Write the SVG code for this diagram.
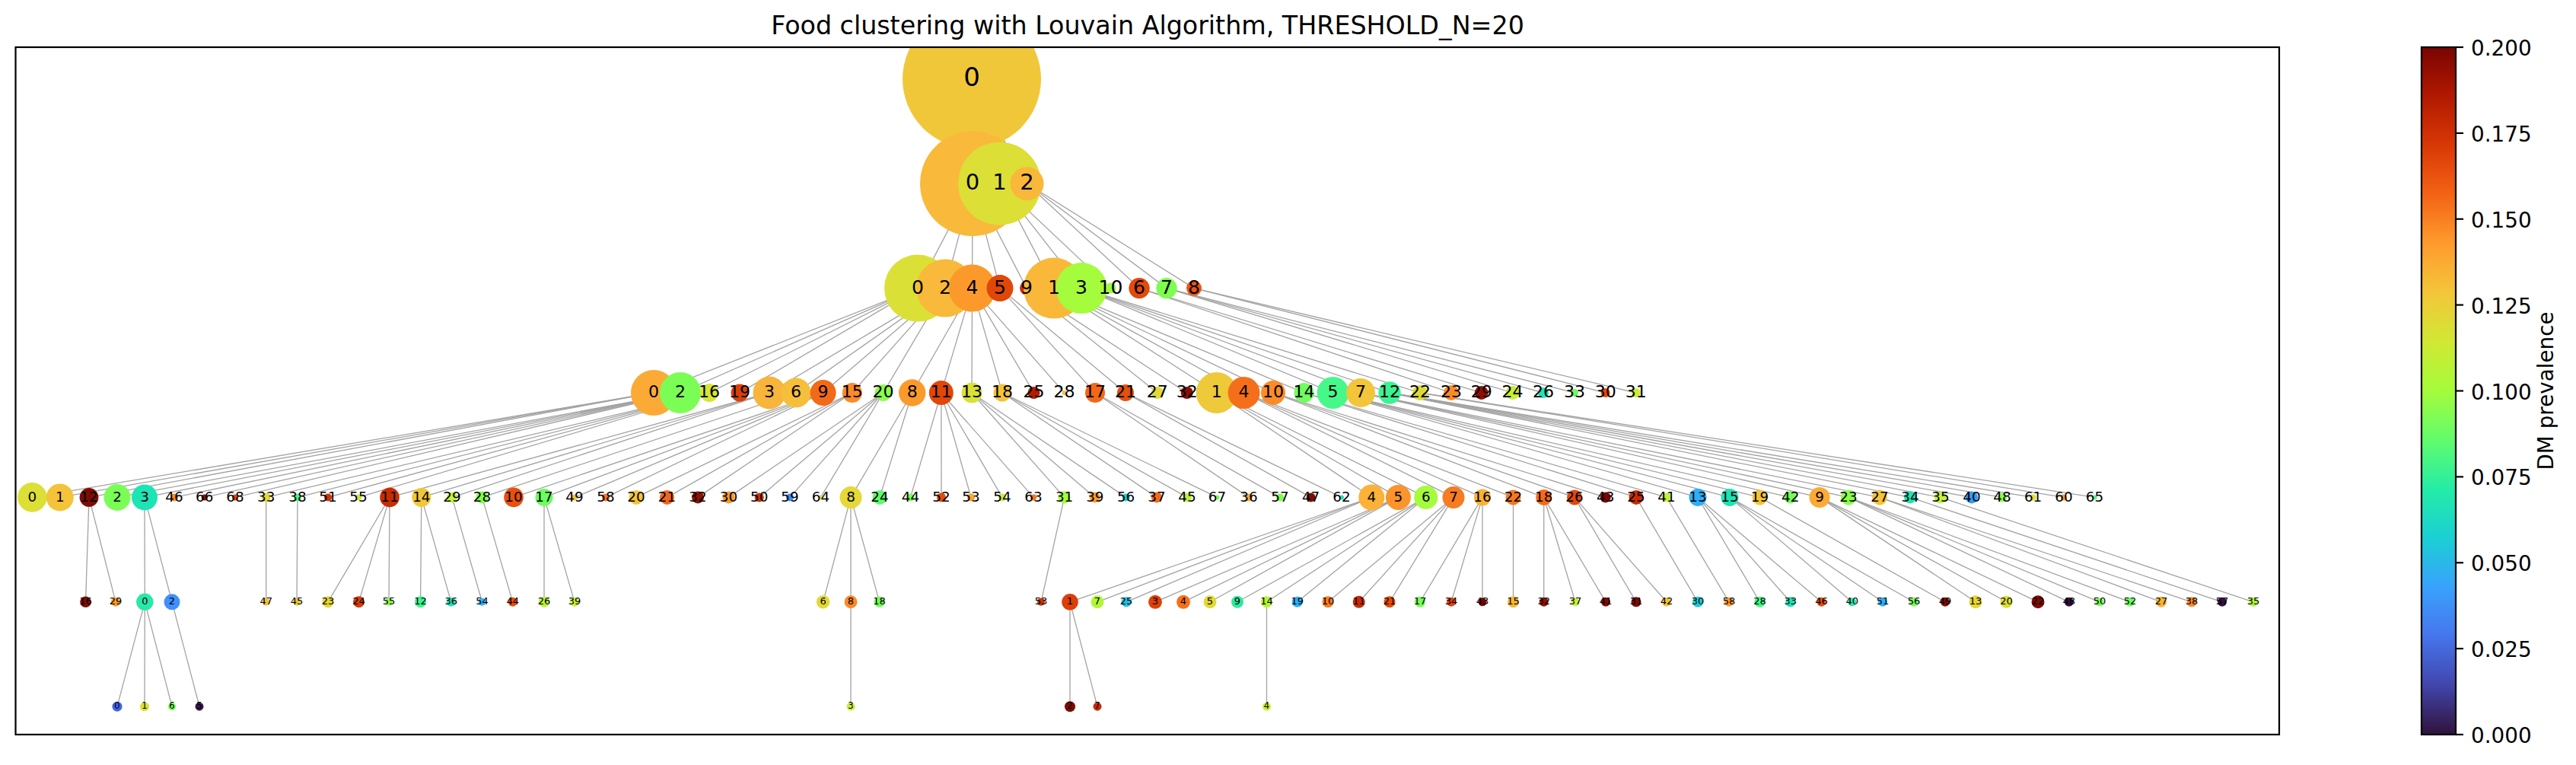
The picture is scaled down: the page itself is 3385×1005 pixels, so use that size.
<svg xmlns="http://www.w3.org/2000/svg" width="3385" height="1005" viewBox="0 0 3385 1005">
<style>
text{font-family:"DejaVu Sans","Liberation Sans",sans-serif;fill:#000}
.lb text{text-anchor:middle}
.t0{font-size:34px}.t1{font-size:29px}.t2{font-size:25px}.t3{font-size:22px}.t4{font-size:18.3px}.t5{font-size:13px}.t6{font-size:11.5px}
#edges line{stroke:#a3a3a3;stroke-width:1.3}
.tk{stroke:#000;stroke-width:2.2}
.tl{font-size:27.8px}
</style>
<defs>
<clipPath id="ax"><rect x="20.5" y="62" width="2974.5" height="903"/></clipPath>
<linearGradient id="turbo" x1="0" y1="1" x2="0" y2="0">
<stop offset="0" stop-color="#30123b"/><stop offset="0.0714" stop-color="#4145ab"/><stop offset="0.1429" stop-color="#4675ed"/><stop offset="0.2143" stop-color="#39a2fc"/><stop offset="0.2857" stop-color="#1bcfd4"/><stop offset="0.3571" stop-color="#24eca6"/><stop offset="0.4286" stop-color="#61fc6c"/><stop offset="0.5" stop-color="#a4fc3b"/><stop offset="0.5714" stop-color="#d1e834"/><stop offset="0.6429" stop-color="#f3c63a"/><stop offset="0.7143" stop-color="#fe9b2d"/><stop offset="0.7857" stop-color="#f36315"/><stop offset="0.8571" stop-color="#d93806"/><stop offset="0.9286" stop-color="#b11901"/><stop offset="1" stop-color="#7a0402"/>
</linearGradient>
</defs>
<rect width="3385" height="1005" fill="#fff"/>
<text x="1508" y="45" text-anchor="middle" style="font-size:33.3px">Food clustering with Louvain Algorithm, THRESHOLD_N=20</text>
<g clip-path="url(#ax)">
<g id="edges">
<line x1="1277" y1="103.8" x2="1278" y2="241.2"/><line x1="1277" y1="103.8" x2="1313.5" y2="241.2"/><line x1="1277" y1="103.8" x2="1349.5" y2="241.2"/>
<line x1="1278" y1="241.2" x2="1206" y2="378.6"/><line x1="1278" y1="241.2" x2="1242" y2="378.6"/><line x1="1278" y1="241.2" x2="1277.5" y2="378.6"/><line x1="1278" y1="241.2" x2="1314" y2="378.6"/><line x1="1278" y1="241.2" x2="1349" y2="378.6"/>
<line x1="1313.5" y1="241.2" x2="1385" y2="378.6"/><line x1="1313.5" y1="241.2" x2="1421" y2="378.6"/><line x1="1313.5" y1="241.2" x2="1459.5" y2="378.6"/>
<line x1="1349.5" y1="241.2" x2="1497" y2="378.6"/><line x1="1349.5" y1="241.2" x2="1533" y2="378.6"/><line x1="1349.5" y1="241.2" x2="1569" y2="378.6"/>
<line x1="1206" y1="378.6" x2="859" y2="516"/><line x1="1206" y1="378.6" x2="894" y2="516"/><line x1="1206" y1="378.6" x2="932" y2="516"/><line x1="1206" y1="378.6" x2="972" y2="516"/>
<line x1="1242" y1="378.6" x2="1011" y2="516"/><line x1="1242" y1="378.6" x2="1046" y2="516"/><line x1="1242" y1="378.6" x2="1081.6" y2="516"/><line x1="1242" y1="378.6" x2="1119.8" y2="516"/><line x1="1242" y1="378.6" x2="1160.6" y2="516"/>
<line x1="1277.5" y1="378.6" x2="1198.7" y2="516"/><line x1="1277.5" y1="378.6" x2="1236.8" y2="516"/><line x1="1277.5" y1="378.6" x2="1277" y2="516"/><line x1="1277.5" y1="378.6" x2="1317" y2="516"/><line x1="1277.5" y1="378.6" x2="1358.5" y2="516"/><line x1="1277.5" y1="378.6" x2="1398.5" y2="516"/>
<line x1="1314" y1="378.6" x2="1439" y2="516"/><line x1="1314" y1="378.6" x2="1479" y2="516"/>
<line x1="1349" y1="378.6" x2="1520.7" y2="516"/><line x1="1349" y1="378.6" x2="1559.7" y2="516"/>
<line x1="1385" y1="378.6" x2="1598.7" y2="516"/><line x1="1385" y1="378.6" x2="1634.5" y2="516"/><line x1="1385" y1="378.6" x2="1673" y2="516"/><line x1="1385" y1="378.6" x2="1713.5" y2="516"/>
<line x1="1421" y1="378.6" x2="1751.6" y2="516"/><line x1="1421" y1="378.6" x2="1788" y2="516"/><line x1="1421" y1="378.6" x2="1826" y2="516"/><line x1="1421" y1="378.6" x2="1866" y2="516"/>
<line x1="1497" y1="378.6" x2="1907" y2="516"/><line x1="1497" y1="378.6" x2="1946.7" y2="516"/>
<line x1="1533" y1="378.6" x2="1987.6" y2="516"/><line x1="1533" y1="378.6" x2="2028" y2="516"/><line x1="1533" y1="378.6" x2="2069" y2="516"/>
<line x1="1569" y1="378.6" x2="2109.7" y2="516"/><line x1="1569" y1="378.6" x2="2149.7" y2="516"/>
<line x1="859" y1="516" x2="42.3" y2="653.4"/><line x1="859" y1="516" x2="78.7" y2="653.4"/><line x1="859" y1="516" x2="117" y2="653.4"/>
<line x1="894" y1="516" x2="154" y2="653.4"/><line x1="894" y1="516" x2="190" y2="653.4"/><line x1="894" y1="516" x2="229" y2="653.4"/><line x1="894" y1="516" x2="268.7" y2="653.4"/><line x1="894" y1="516" x2="309" y2="653.4"/>
<line x1="932" y1="516" x2="349.7" y2="653.4"/><line x1="932" y1="516" x2="391" y2="653.4"/><line x1="932" y1="516" x2="431" y2="653.4"/><line x1="932" y1="516" x2="471" y2="653.4"/>
<line x1="1011" y1="516" x2="512" y2="653.4"/><line x1="1011" y1="516" x2="553.8" y2="653.4"/><line x1="1011" y1="516" x2="594" y2="653.4"/>
<line x1="1046" y1="516" x2="633.5" y2="653.4"/>
<line x1="1081.6" y1="516" x2="675" y2="653.4"/><line x1="1081.6" y1="516" x2="715" y2="653.4"/><line x1="1081.6" y1="516" x2="755" y2="653.4"/><line x1="1081.6" y1="516" x2="796" y2="653.4"/>
<line x1="1119.8" y1="516" x2="836" y2="653.4"/><line x1="1119.8" y1="516" x2="876.5" y2="653.4"/><line x1="1119.8" y1="516" x2="917" y2="653.4"/>
<line x1="1160.6" y1="516" x2="957.5" y2="653.4"/><line x1="1160.6" y1="516" x2="997.7" y2="653.4"/><line x1="1160.6" y1="516" x2="1038" y2="653.4"/><line x1="1160.6" y1="516" x2="1078.4" y2="653.4"/>
<line x1="1198.7" y1="516" x2="1118" y2="653.4"/><line x1="1198.7" y1="516" x2="1156" y2="653.4"/>
<line x1="1236.8" y1="516" x2="1196.4" y2="653.4"/><line x1="1236.8" y1="516" x2="1237" y2="653.4"/><line x1="1236.8" y1="516" x2="1276" y2="653.4"/><line x1="1236.8" y1="516" x2="1317" y2="653.4"/><line x1="1236.8" y1="516" x2="1358" y2="653.4"/>
<line x1="1277" y1="516" x2="1398.6" y2="653.4"/><line x1="1277" y1="516" x2="1438.8" y2="653.4"/><line x1="1277" y1="516" x2="1479.6" y2="653.4"/>
<line x1="1317" y1="516" x2="1520" y2="653.4"/><line x1="1317" y1="516" x2="1560" y2="653.4"/><line x1="1317" y1="516" x2="1599.5" y2="653.4"/>
<line x1="1439" y1="516" x2="1641" y2="653.4"/><line x1="1439" y1="516" x2="1682" y2="653.4"/>
<line x1="1479" y1="516" x2="1722.6" y2="653.4"/><line x1="1479" y1="516" x2="1763" y2="653.4"/>
<line x1="1598.7" y1="516" x2="1802.3" y2="653.4"/><line x1="1598.7" y1="516" x2="1837.4" y2="653.4"/><line x1="1598.7" y1="516" x2="1873.7" y2="653.4"/>
<line x1="1634.5" y1="516" x2="1910" y2="653.4"/><line x1="1634.5" y1="516" x2="1948" y2="653.4"/><line x1="1634.5" y1="516" x2="1988.5" y2="653.4"/>
<line x1="1673" y1="516" x2="2028.7" y2="653.4"/><line x1="1673" y1="516" x2="2069" y2="653.4"/><line x1="1673" y1="516" x2="2109.7" y2="653.4"/>
<line x1="1713.5" y1="516" x2="2150" y2="653.4"/><line x1="1713.5" y1="516" x2="2190" y2="653.4"/>
<line x1="1751.6" y1="516" x2="2231" y2="653.4"/><line x1="1751.6" y1="516" x2="2273" y2="653.4"/><line x1="1751.6" y1="516" x2="2312.5" y2="653.4"/><line x1="1751.6" y1="516" x2="2352.7" y2="653.4"/>
<line x1="1788" y1="516" x2="2391" y2="653.4"/><line x1="1788" y1="516" x2="2429" y2="653.4"/><line x1="1788" y1="516" x2="2470" y2="653.4"/>
<line x1="1826" y1="516" x2="2510" y2="653.4"/><line x1="1826" y1="516" x2="2550" y2="653.4"/><line x1="1826" y1="516" x2="2591" y2="653.4"/><line x1="1826" y1="516" x2="2631" y2="653.4"/><line x1="1826" y1="516" x2="2671.6" y2="653.4"/>
<line x1="1866" y1="516" x2="2712" y2="653.4"/><line x1="1866" y1="516" x2="2752.5" y2="653.4"/>
<line x1="117" y1="653.4" x2="112.5" y2="790.8"/><line x1="117" y1="653.4" x2="152" y2="790.8"/>
<line x1="190" y1="653.4" x2="190.3" y2="790.8"/><line x1="190" y1="653.4" x2="226" y2="790.8"/>
<line x1="349.7" y1="653.4" x2="349.7" y2="790.8"/><line x1="391" y1="653.4" x2="390" y2="790.8"/>
<line x1="512" y1="653.4" x2="431" y2="790.8"/><line x1="512" y1="653.4" x2="471.5" y2="790.8"/><line x1="512" y1="653.4" x2="511" y2="790.8"/>
<line x1="553.8" y1="653.4" x2="552.5" y2="790.8"/><line x1="553.8" y1="653.4" x2="592.7" y2="790.8"/>
<line x1="594" y1="653.4" x2="633.5" y2="790.8"/><line x1="633.5" y1="653.4" x2="673.7" y2="790.8"/>
<line x1="715" y1="653.4" x2="715" y2="790.8"/><line x1="715" y1="653.4" x2="755" y2="790.8"/>
<line x1="1118" y1="653.4" x2="1081.6" y2="790.8"/><line x1="1118" y1="653.4" x2="1118" y2="790.8"/><line x1="1118" y1="653.4" x2="1155.6" y2="790.8"/>
<line x1="1398.6" y1="653.4" x2="1368" y2="790.8"/>
<line x1="1802.3" y1="653.4" x2="1406" y2="790.8"/><line x1="1802.3" y1="653.4" x2="1442" y2="790.8"/><line x1="1802.3" y1="653.4" x2="1480" y2="790.8"/>
<line x1="1837.4" y1="653.4" x2="1518" y2="790.8"/><line x1="1837.4" y1="653.4" x2="1555" y2="790.8"/><line x1="1837.4" y1="653.4" x2="1590" y2="790.8"/>
<line x1="1873.7" y1="653.4" x2="1626" y2="790.8"/><line x1="1873.7" y1="653.4" x2="1664.5" y2="790.8"/><line x1="1873.7" y1="653.4" x2="1704.7" y2="790.8"/>
<line x1="1910" y1="653.4" x2="1745" y2="790.8"/><line x1="1910" y1="653.4" x2="1785.7" y2="790.8"/><line x1="1910" y1="653.4" x2="1826" y2="790.8"/>
<line x1="1948" y1="653.4" x2="1866" y2="790.8"/><line x1="1948" y1="653.4" x2="1907" y2="790.8"/><line x1="1948" y1="653.4" x2="1948" y2="790.8"/>
<line x1="1988.5" y1="653.4" x2="1988.5" y2="790.8"/>
<line x1="2028.7" y1="653.4" x2="2028.7" y2="790.8"/><line x1="2028.7" y1="653.4" x2="2070" y2="790.8"/><line x1="2028.7" y1="653.4" x2="2110" y2="790.8"/>
<line x1="2069" y1="653.4" x2="2150" y2="790.8"/><line x1="2069" y1="653.4" x2="2190" y2="790.8"/>
<line x1="2150" y1="653.4" x2="2231" y2="790.8"/><line x1="2190" y1="653.4" x2="2272" y2="790.8"/>
<line x1="2231" y1="653.4" x2="2312.5" y2="790.8"/><line x1="2231" y1="653.4" x2="2352.7" y2="790.8"/><line x1="2231" y1="653.4" x2="2393.5" y2="790.8"/>
<line x1="2273" y1="653.4" x2="2433.7" y2="790.8"/><line x1="2273" y1="653.4" x2="2474" y2="790.8"/><line x1="2273" y1="653.4" x2="2515" y2="790.8"/>
<line x1="2312.5" y1="653.4" x2="2556" y2="790.8"/>
<line x1="2391" y1="653.4" x2="2596" y2="790.8"/><line x1="2391" y1="653.4" x2="2636.5" y2="790.8"/><line x1="2391" y1="653.4" x2="2678" y2="790.8"/>
<line x1="2429" y1="653.4" x2="2718.8" y2="790.8"/><line x1="2429" y1="653.4" x2="2759" y2="790.8"/><line x1="2429" y1="653.4" x2="2799" y2="790.8"/>
<line x1="2470" y1="653.4" x2="2840" y2="790.8"/><line x1="2470" y1="653.4" x2="2880" y2="790.8"/>
<line x1="2510" y1="653.4" x2="2920" y2="790.8"/><line x1="2550" y1="653.4" x2="2961" y2="790.8"/>
<line x1="190.3" y1="790.8" x2="154" y2="928.2"/><line x1="190.3" y1="790.8" x2="190" y2="928.2"/><line x1="190.3" y1="790.8" x2="226" y2="928.2"/>
<line x1="226" y1="790.8" x2="262" y2="928.2"/><line x1="1118" y1="790.8" x2="1118" y2="928.2"/>
<line x1="1406" y1="790.8" x2="1406" y2="928.2"/><line x1="1406" y1="790.8" x2="1442" y2="928.2"/><line x1="1664.5" y1="790.8" x2="1664.5" y2="928.2"/>
</g>
<g id="nodes">
<g id="L0-0"><circle cx="1277" cy="103.8" r="91" fill="#f1c73a"/></g>
<g id="L1-0"><circle cx="1278" cy="241.2" r="69" fill="#f9b93a"/></g>
<g id="L1-1"><circle cx="1313.5" cy="241.2" r="54.5" fill="#dcdf36"/></g>
<g id="L1-2"><circle cx="1349.5" cy="241.2" r="22" fill="#f9b83a"/></g>
<g id="L2-0"><circle cx="1206" cy="378.6" r="44" fill="#dbe036"/></g>
<g id="L2-2"><circle cx="1242" cy="378.6" r="38" fill="#f9b93a"/></g>
<g id="L2-4"><circle cx="1277.5" cy="378.6" r="31" fill="#fb9a2b"/></g>
<g id="L2-5"><circle cx="1314" cy="378.6" r="17.5" fill="#e04709"/></g>
<g id="L2-9"><circle cx="1349" cy="378.6" r="9" fill="#c92e04"/></g>
<g id="L2-1"><circle cx="1385" cy="378.6" r="40" fill="#f9b83a"/></g>
<g id="L2-3"><circle cx="1421" cy="378.6" r="33.5" fill="#a4fc3c"/></g>
<g id="L2-10"><circle cx="1459.5" cy="378.6" r="7" fill="#9efc3e"/></g>
<g id="L2-6"><circle cx="1497" cy="378.6" r="13.7" fill="#e34a0b"/></g>
<g id="L2-7"><circle cx="1533" cy="378.6" r="13.7" fill="#7dfd50"/></g>
<g id="L2-8"><circle cx="1569" cy="378.6" r="10" fill="#ec5510"/></g>
<g id="L3-0"><circle cx="859" cy="516" r="30" fill="#fbab35"/></g>
<g id="L3-2"><circle cx="894" cy="516" r="27" fill="#7afe55"/></g>
<g id="L3-16"><circle cx="932" cy="516" r="12" fill="#d6e535"/></g>
<g id="L3-19"><circle cx="972" cy="516" r="11.5" fill="#d84008"/></g>
<g id="L3-3"><circle cx="1011" cy="516" r="21.5" fill="#f7b53b"/></g>
<g id="L3-6"><circle cx="1046" cy="516" r="19.5" fill="#f6bf3b"/></g>
<g id="L3-9"><circle cx="1081.6" cy="516" r="17" fill="#f26a18"/></g>
<g id="L3-15"><circle cx="1119.8" cy="516" r="13" fill="#fb8a28"/></g>
<g id="L3-20"><circle cx="1160.6" cy="516" r="11" fill="#8afe49"/></g>
<g id="L3-8"><circle cx="1198.7" cy="516" r="17.7" fill="#fb9a2b"/></g>
<g id="L3-11"><circle cx="1236.8" cy="516" r="16" fill="#e04708"/></g>
<g id="L3-13"><circle cx="1277" cy="516" r="13.5" fill="#dae136"/></g>
<g id="L3-18"><circle cx="1317" cy="516" r="11.5" fill="#f4c33a"/></g>
<g id="L3-25"><circle cx="1358.5" cy="516" r="8" fill="#b01d02"/></g>
<g id="L3-28"><circle cx="1398.5" cy="516" r="3" fill="#f4c33a"/></g>
<g id="L3-17"><circle cx="1439" cy="516" r="13" fill="#f26818"/></g>
<g id="L3-21"><circle cx="1479" cy="516" r="11" fill="#e3500d"/></g>
<g id="L3-27"><circle cx="1520.7" cy="516" r="8" fill="#e2d937"/></g>
<g id="L3-32"><circle cx="1559.7" cy="516" r="8" fill="#851004"/></g>
<g id="L3-1"><circle cx="1598.7" cy="516" r="27" fill="#eec93a"/></g>
<g id="L3-4"><circle cx="1634.5" cy="516" r="21" fill="#f56f1a"/></g>
<g id="L3-10"><circle cx="1673" cy="516" r="16" fill="#fb8c28"/></g>
<g id="L3-14"><circle cx="1713.5" cy="516" r="13" fill="#6ffe5d"/></g>
<g id="L3-5"><circle cx="1751.6" cy="516" r="21" fill="#45f889"/></g>
<g id="L3-7"><circle cx="1788" cy="516" r="19" fill="#f3c53a"/></g>
<g id="L3-12"><circle cx="1826" cy="516" r="14.7" fill="#3cf294"/></g>
<g id="L3-22"><circle cx="1866" cy="516" r="10" fill="#dcdb36"/></g>
<g id="L3-23"><circle cx="1907" cy="516" r="10" fill="#fa8a27"/></g>
<g id="L3-29"><circle cx="1946.7" cy="516" r="9" fill="#8f1003"/></g>
<g id="L3-24"><circle cx="1987.6" cy="516" r="9" fill="#c6ef36"/></g>
<g id="L3-26"><circle cx="2028" cy="516" r="7" fill="#22e2b8"/></g>
<g id="L3-33"><circle cx="2069" cy="516" r="5" fill="#67fe5f"/></g>
<g id="L3-30"><circle cx="2109.7" cy="516" r="6" fill="#e8460c"/></g>
<g id="L3-31"><circle cx="2149.7" cy="516" r="6" fill="#c8ee38"/></g>
<g id="L4-0"><circle cx="42.3" cy="653.4" r="19.3" fill="#dcdf36"/></g>
<g id="L4-1"><circle cx="78.7" cy="653.4" r="18" fill="#f4c33a"/></g>
<g id="L4-12"><circle cx="117" cy="653.4" r="12.4" fill="#7e0c03"/></g>
<g id="L4-2"><circle cx="154" cy="653.4" r="17.5" fill="#7afe55"/></g>
<g id="L4-3"><circle cx="190" cy="653.4" r="17" fill="#1ee3b4"/></g>
<g id="L4-46"><circle cx="229" cy="653.4" r="5" fill="#fb8c28"/></g>
<g id="L4-66"><circle cx="268.7" cy="653.4" r="4" fill="#8b0e03"/></g>
<g id="L4-68"><circle cx="309" cy="653.4" r="4" fill="#e2480b"/></g>
<g id="L4-33"><circle cx="349.7" cy="653.4" r="6" fill="#e3d837"/></g>
<g id="L4-38"><circle cx="391" cy="653.4" r="5" fill="#4af883"/></g>
<g id="L4-51"><circle cx="431" cy="653.4" r="5" fill="#d1320a"/></g>
<g id="L4-55"><circle cx="471" cy="653.4" r="4" fill="#d0e836"/></g>
<g id="L4-11"><circle cx="512" cy="653.4" r="12.8" fill="#c72d04"/></g>
<g id="L4-14"><circle cx="553.8" cy="653.4" r="12.5" fill="#f1c73a"/></g>
<g id="L4-29"><circle cx="594" cy="653.4" r="7" fill="#c4f13a"/></g>
<g id="L4-28"><circle cx="633.5" cy="653.4" r="8" fill="#80fe4f"/></g>
<g id="L4-10"><circle cx="675" cy="653.4" r="12.8" fill="#e9500d"/></g>
<g id="L4-17"><circle cx="715" cy="653.4" r="11.5" fill="#6cfe5e"/></g>
<g id="L4-49"><circle cx="755" cy="653.4" r="4" fill="#f4c33a"/></g>
<g id="L4-58"><circle cx="796" cy="653.4" r="5" fill="#f9742a"/></g>
<g id="L4-20"><circle cx="836" cy="653.4" r="9.5" fill="#f4c33a"/></g>
<g id="L4-21"><circle cx="876.5" cy="653.4" r="9.5" fill="#f2661a"/></g>
<g id="L4-32"><circle cx="917" cy="653.4" r="8" fill="#901103"/></g>
<g id="L4-30"><circle cx="957.5" cy="653.4" r="8" fill="#fb9a2b"/></g>
<g id="L4-50"><circle cx="997.7" cy="653.4" r="6" fill="#cf3006"/></g>
<g id="L4-59"><circle cx="1038" cy="653.4" r="5" fill="#3e8ff8"/></g>
<g id="L4-64"><circle cx="1078.4" cy="653.4" r="3" fill="#e2dd37"/></g>
<g id="L4-8"><circle cx="1118" cy="653.4" r="14.5" fill="#e6d837"/></g>
<g id="L4-24"><circle cx="1156" cy="653.4" r="9.5" fill="#5efa6c"/></g>
<g id="L4-44"><circle cx="1196.4" cy="653.4" r="5" fill="#74fe57"/></g>
<g id="L4-52"><circle cx="1237" cy="653.4" r="6" fill="#e44b0b"/></g>
<g id="L4-53"><circle cx="1276" cy="653.4" r="5" fill="#fba632"/></g>
<g id="L4-54"><circle cx="1317" cy="653.4" r="5" fill="#c9ed38"/></g>
<g id="L4-63"><circle cx="1358" cy="653.4" r="4" fill="#f8761f"/></g>
<g id="L4-31"><circle cx="1398.6" cy="653.4" r="8" fill="#a4fc3c"/></g>
<g id="L4-39"><circle cx="1438.8" cy="653.4" r="7" fill="#fb9a2b"/></g>
<g id="L4-56"><circle cx="1479.6" cy="653.4" r="5" fill="#1bcfd4"/></g>
<g id="L4-37"><circle cx="1520" cy="653.4" r="7" fill="#f46a1b"/></g>
<g id="L4-45"><circle cx="1560" cy="653.4" r="6" fill="#c4f13a"/></g>
<g id="L4-67"><circle cx="1599.5" cy="653.4" r="3" fill="#74fe57"/></g>
<g id="L4-36"><circle cx="1641" cy="653.4" r="5" fill="#fbad35"/></g>
<g id="L4-57"><circle cx="1682" cy="653.4" r="5" fill="#7cfd50"/></g>
<g id="L4-47"><circle cx="1722.6" cy="653.4" r="6" fill="#7e0c03"/></g>
<g id="L4-62"><circle cx="1763" cy="653.4" r="3" fill="#1ee3b4"/></g>
<g id="L4-4"><circle cx="1802.3" cy="653.4" r="17" fill="#fbb237"/></g>
<g id="L4-5"><circle cx="1837.4" cy="653.4" r="16.5" fill="#fb942a"/></g>
<g id="L4-6"><circle cx="1873.7" cy="653.4" r="15.5" fill="#a4fc3c"/></g>
<g id="L4-7"><circle cx="1910" cy="653.4" r="14.5" fill="#f67b21"/></g>
<g id="L4-16"><circle cx="1948" cy="653.4" r="11" fill="#fab235"/></g>
<g id="L4-22"><circle cx="1988.5" cy="653.4" r="10" fill="#f57820"/></g>
<g id="L4-18"><circle cx="2028.7" cy="653.4" r="10.5" fill="#f5691b"/></g>
<g id="L4-26"><circle cx="2069" cy="653.4" r="10" fill="#e2480b"/></g>
<g id="L4-43"><circle cx="2109.7" cy="653.4" r="7" fill="#7a0403"/></g>
<g id="L4-25"><circle cx="2150" cy="653.4" r="9.5" fill="#c52c04"/></g>
<g id="L4-41"><circle cx="2190" cy="653.4" r="6" fill="#c4f13a"/></g>
<g id="L4-13"><circle cx="2231" cy="653.4" r="11.5" fill="#2eaef7"/></g>
<g id="L4-15"><circle cx="2273" cy="653.4" r="11.5" fill="#1ee3b4"/></g>
<g id="L4-19"><circle cx="2312.5" cy="653.4" r="10" fill="#f4c33a"/></g>
<g id="L4-42"><circle cx="2352.7" cy="653.4" r="8" fill="#74fe57"/></g>
<g id="L4-9"><circle cx="2391" cy="653.4" r="13.5" fill="#fbab35"/></g>
<g id="L4-23"><circle cx="2429" cy="653.4" r="10" fill="#8afe49"/></g>
<g id="L4-27"><circle cx="2470" cy="653.4" r="10" fill="#f4c33a"/></g>
<g id="L4-34"><circle cx="2510" cy="653.4" r="8" fill="#1ee3b4"/></g>
<g id="L4-35"><circle cx="2550" cy="653.4" r="8" fill="#c4f13a"/></g>
<g id="L4-40"><circle cx="2591" cy="653.4" r="8" fill="#2f9df5"/></g>
<g id="L4-48"><circle cx="2631" cy="653.4" r="6" fill="#8afe49"/></g>
<g id="L4-61"><circle cx="2671.6" cy="653.4" r="4" fill="#e2dd37"/></g>
<g id="L4-60"><circle cx="2712" cy="653.4" r="4" fill="#fb9a2b"/></g>
<g id="L4-65"><circle cx="2752.5" cy="653.4" r="3" fill="#4af883"/></g>
<g id="L5-16"><circle cx="112.5" cy="790.8" r="7.3" fill="#7e0c03"/></g>
<g id="L5-29"><circle cx="152" cy="790.8" r="6" fill="#fb9a2b"/></g>
<g id="L5-0"><circle cx="190.3" cy="790.8" r="11.2" fill="#2ae8a8"/></g>
<g id="L5-2"><circle cx="226" cy="790.8" r="10.5" fill="#418ffc"/></g>
<g id="L5-47"><circle cx="349.7" cy="790.8" r="5" fill="#f9c03a"/></g>
<g id="L5-45"><circle cx="390" cy="790.8" r="5" fill="#eccc3a"/></g>
<g id="L5-23"><circle cx="431" cy="790.8" r="7.5" fill="#e6d537"/></g>
<g id="L5-24"><circle cx="471.5" cy="790.8" r="7.5" fill="#d83c08"/></g>
<g id="L5-55"><circle cx="511" cy="790.8" r="5" fill="#8afe49"/></g>
<g id="L5-12"><circle cx="552.5" cy="790.8" r="7.5" fill="#3ef28e"/></g>
<g id="L5-36"><circle cx="592.7" cy="790.8" r="6" fill="#1ee3b4"/></g>
<g id="L5-54"><circle cx="633.5" cy="790.8" r="5" fill="#2eaef7"/></g>
<g id="L5-44"><circle cx="673.7" cy="790.8" r="6" fill="#e44b0b"/></g>
<g id="L5-26"><circle cx="715" cy="790.8" r="7" fill="#b8f437"/></g>
<g id="L5-39"><circle cx="755" cy="790.8" r="6" fill="#c4f13a"/></g>
<g id="L5-6"><circle cx="1081.6" cy="790.8" r="8.8" fill="#e2d937"/></g>
<g id="L5-8"><circle cx="1118" cy="790.8" r="8.5" fill="#fb8a27"/></g>
<g id="L5-18"><circle cx="1155.6" cy="790.8" r="7" fill="#74fe57"/></g>
<g id="L5-53"><circle cx="1368" cy="790.8" r="5" fill="#c8300a"/></g>
<g id="L5-1"><circle cx="1406" cy="790.8" r="10.8" fill="#db3f07"/></g>
<g id="L5-7"><circle cx="1442" cy="790.8" r="8.5" fill="#b0f637"/></g>
<g id="L5-25"><circle cx="1480" cy="790.8" r="6.5" fill="#26c0e3"/></g>
<g id="L5-3"><circle cx="1518" cy="790.8" r="9" fill="#dc4108"/></g>
<g id="L5-4"><circle cx="1555" cy="790.8" r="9" fill="#f5711b"/></g>
<g id="L5-5"><circle cx="1590" cy="790.8" r="8.5" fill="#e2d937"/></g>
<g id="L5-9"><circle cx="1626" cy="790.8" r="8" fill="#2ee89e"/></g>
<g id="L5-14"><circle cx="1664.5" cy="790.8" r="7.5" fill="#b8f437"/></g>
<g id="L5-19"><circle cx="1704.7" cy="790.8" r="7" fill="#2eaef7"/></g>
<g id="L5-10"><circle cx="1745" cy="790.8" r="7.5" fill="#f67b21"/></g>
<g id="L5-11"><circle cx="1785.7" cy="790.8" r="8" fill="#c52c04"/></g>
<g id="L5-21"><circle cx="1826" cy="790.8" r="7.5" fill="#e44b0b"/></g>
<g id="L5-17"><circle cx="1866" cy="790.8" r="7" fill="#74fe57"/></g>
<g id="L5-34"><circle cx="1907" cy="790.8" r="6" fill="#dc4108"/></g>
<g id="L5-43"><circle cx="1948" cy="790.8" r="5.5" fill="#7a0403"/></g>
<g id="L5-15"><circle cx="1988.5" cy="790.8" r="7.5" fill="#f9b83a"/></g>
<g id="L5-32"><circle cx="2028.7" cy="790.8" r="6" fill="#901103"/></g>
<g id="L5-37"><circle cx="2070" cy="790.8" r="5.5" fill="#c4f13a"/></g>
<g id="L5-41"><circle cx="2110" cy="790.8" r="6" fill="#7e0c03"/></g>
<g id="L5-31"><circle cx="2150" cy="790.8" r="6.5" fill="#7e0c03"/></g>
<g id="L5-42"><circle cx="2190" cy="790.8" r="6" fill="#f4c33a"/></g>
<g id="L5-30"><circle cx="2231" cy="790.8" r="7" fill="#1ecdd6"/></g>
<g id="L5-58"><circle cx="2272" cy="790.8" r="6" fill="#fb9a2b"/></g>
<g id="L5-28"><circle cx="2312.5" cy="790.8" r="7" fill="#46f884"/></g>
<g id="L5-33"><circle cx="2352.7" cy="790.8" r="6.5" fill="#1ee3b4"/></g>
<g id="L5-46"><circle cx="2393.5" cy="790.8" r="6" fill="#e44b0b"/></g>
<g id="L5-40"><circle cx="2433.7" cy="790.8" r="5.5" fill="#2ae8a8"/></g>
<g id="L5-51"><circle cx="2474" cy="790.8" r="6" fill="#2eaef7"/></g>
<g id="L5-56"><circle cx="2515" cy="790.8" r="6" fill="#74fe57"/></g>
<g id="L5-49"><circle cx="2556" cy="790.8" r="6" fill="#7e0c03"/></g>
<g id="L5-13"><circle cx="2596" cy="790.8" r="8.5" fill="#e6d537"/></g>
<g id="L5-20"><circle cx="2636.5" cy="790.8" r="8" fill="#dcdf36"/></g>
<g id="L5-22"><circle cx="2678" cy="790.8" r="8.5" fill="#7e0c03"/></g>
<g id="L5-48"><circle cx="2718.8" cy="790.8" r="6" fill="#30123b"/></g>
<g id="L5-50"><circle cx="2759" cy="790.8" r="5.5" fill="#74fe57"/></g>
<g id="L5-52"><circle cx="2799" cy="790.8" r="6" fill="#6cfe5e"/></g>
<g id="L5-27"><circle cx="2840" cy="790.8" r="7" fill="#fbb237"/></g>
<g id="L5-38"><circle cx="2880" cy="790.8" r="6.5" fill="#fb8a27"/></g>
<g id="L5-57"><circle cx="2920" cy="790.8" r="6" fill="#30123b"/></g>
<g id="L5-35"><circle cx="2961" cy="790.8" r="6" fill="#b0f637"/></g>
<g id="L6-0"><circle cx="154" cy="928.2" r="6.5" fill="#4363e4"/></g>
<g id="L6-1"><circle cx="190" cy="928.2" r="6" fill="#dcdf36"/></g>
<g id="L6-6"><circle cx="226" cy="928.2" r="5" fill="#74fe57"/></g>
<g id="L6-5"><circle cx="262" cy="928.2" r="5.5" fill="#3a1448"/></g>
<g id="L6-3"><circle cx="1118" cy="928.2" r="5.5" fill="#c8ee38"/></g>
<g id="L6-2"><circle cx="1406" cy="928.2" r="7" fill="#7e0c03"/></g>
<g id="L6-7"><circle cx="1442" cy="928.2" r="5.5" fill="#c52c04"/></g>
<g id="L6-4"><circle cx="1664.5" cy="928.2" r="5.5" fill="#c8ee38"/></g>
</g>
<g id="labels" class="lb">
<text class="t0" x="1277" y="113.2">0</text>
<g class="t1"><text x="1278" y="249.2">0</text><text x="1313.5" y="249.2">1</text><text x="1349.5" y="249.2">2</text></g>
<g class="t2"><text x="1206" y="385.5">0</text><text x="1242" y="385.5">2</text><text x="1277.5" y="385.5">4</text><text x="1314" y="385.5">5</text><text x="1349" y="385.5">9</text><text x="1385" y="385.5">1</text><text x="1421" y="385.5">3</text><text x="1459.5" y="385.5">10</text><text x="1497" y="385.5">6</text><text x="1533" y="385.5">7</text><text x="1569" y="385.5">8</text></g>
<g class="t3"><text x="859" y="522.1">0</text><text x="894" y="522.1">2</text><text x="932" y="522.1">16</text><text x="972" y="522.1">19</text><text x="1011" y="522.1">3</text><text x="1046" y="522.1">6</text><text x="1081.6" y="522.1">9</text><text x="1119.8" y="522.1">15</text><text x="1160.6" y="522.1">20</text><text x="1198.7" y="522.1">8</text><text x="1236.8" y="522.1">11</text><text x="1277" y="522.1">13</text><text x="1317" y="522.1">18</text><text x="1358.5" y="522.1">25</text><text x="1398.5" y="522.1">28</text><text x="1439" y="522.1">17</text><text x="1479" y="522.1">21</text><text x="1520.7" y="522.1">27</text><text x="1559.7" y="522.1">32</text><text x="1598.7" y="522.1">1</text><text x="1634.5" y="522.1">4</text><text x="1673" y="522.1">10</text><text x="1713.5" y="522.1">14</text><text x="1751.6" y="522.1">5</text><text x="1788" y="522.1">7</text><text x="1826" y="522.1">12</text><text x="1866" y="522.1">22</text><text x="1907" y="522.1">23</text><text x="1946.7" y="522.1">29</text><text x="1987.6" y="522.1">24</text><text x="2028" y="522.1">26</text><text x="2069" y="522.1">33</text><text x="2109.7" y="522.1">30</text><text x="2149.7" y="522.1">31</text></g>
<g class="t4"><text x="42.3" y="658.5">0</text><text x="78.7" y="658.5">1</text><text x="117" y="658.5">12</text><text x="154" y="658.5">2</text><text x="190" y="658.5">3</text><text x="229" y="658.5">46</text><text x="268.7" y="658.5">66</text><text x="309" y="658.5">68</text><text x="349.7" y="658.5">33</text><text x="391" y="658.5">38</text><text x="431" y="658.5">51</text><text x="471" y="658.5">55</text><text x="512" y="658.5">11</text><text x="553.8" y="658.5">14</text><text x="594" y="658.5">29</text><text x="633.5" y="658.5">28</text><text x="675" y="658.5">10</text><text x="715" y="658.5">17</text><text x="755" y="658.5">49</text><text x="796" y="658.5">58</text><text x="836" y="658.5">20</text><text x="876.5" y="658.5">21</text><text x="917" y="658.5">32</text><text x="957.5" y="658.5">30</text><text x="997.7" y="658.5">50</text><text x="1038" y="658.5">59</text><text x="1078.4" y="658.5">64</text><text x="1118" y="658.5">8</text><text x="1156" y="658.5">24</text><text x="1196.4" y="658.5">44</text><text x="1237" y="658.5">52</text><text x="1276" y="658.5">53</text><text x="1317" y="658.5">54</text><text x="1358" y="658.5">63</text><text x="1398.6" y="658.5">31</text><text x="1438.8" y="658.5">39</text><text x="1479.6" y="658.5">56</text><text x="1520" y="658.5">37</text><text x="1560" y="658.5">45</text><text x="1599.5" y="658.5">67</text><text x="1641" y="658.5">36</text><text x="1682" y="658.5">57</text><text x="1722.6" y="658.5">47</text><text x="1763" y="658.5">62</text><text x="1802.3" y="658.5">4</text><text x="1837.4" y="658.5">5</text><text x="1873.7" y="658.5">6</text><text x="1910" y="658.5">7</text><text x="1948" y="658.5">16</text><text x="1988.5" y="658.5">22</text><text x="2028.7" y="658.5">18</text><text x="2069" y="658.5">26</text><text x="2109.7" y="658.5">43</text><text x="2150" y="658.5">25</text><text x="2190" y="658.5">41</text><text x="2231" y="658.5">13</text><text x="2273" y="658.5">15</text><text x="2312.5" y="658.5">19</text><text x="2352.7" y="658.5">42</text><text x="2391" y="658.5">9</text><text x="2429" y="658.5">23</text><text x="2470" y="658.5">27</text><text x="2510" y="658.5">34</text><text x="2550" y="658.5">35</text><text x="2591" y="658.5">40</text><text x="2631" y="658.5">48</text><text x="2671.6" y="658.5">61</text><text x="2712" y="658.5">60</text><text x="2752.5" y="658.5">65</text></g>
<g class="t5"><text x="112.5" y="794.4">16</text><text x="152" y="794.4">29</text><text x="190.3" y="794.4">0</text><text x="226" y="794.4">2</text><text x="349.7" y="794.4">47</text><text x="390" y="794.4">45</text><text x="431" y="794.4">23</text><text x="471.5" y="794.4">24</text><text x="511" y="794.4">55</text><text x="552.5" y="794.4">12</text><text x="592.7" y="794.4">36</text><text x="633.5" y="794.4">54</text><text x="673.7" y="794.4">44</text><text x="715" y="794.4">26</text><text x="755" y="794.4">39</text><text x="1081.6" y="794.4">6</text><text x="1118" y="794.4">8</text><text x="1155.6" y="794.4">18</text><text x="1368" y="794.4">53</text><text x="1406" y="794.4">1</text><text x="1442" y="794.4">7</text><text x="1480" y="794.4">25</text><text x="1518" y="794.4">3</text><text x="1555" y="794.4">4</text><text x="1590" y="794.4">5</text><text x="1626" y="794.4">9</text><text x="1664.5" y="794.4">14</text><text x="1704.7" y="794.4">19</text><text x="1745" y="794.4">10</text><text x="1785.7" y="794.4">11</text><text x="1826" y="794.4">21</text><text x="1866" y="794.4">17</text><text x="1907" y="794.4">34</text><text x="1948" y="794.4">43</text><text x="1988.5" y="794.4">15</text><text x="2028.7" y="794.4">32</text><text x="2070" y="794.4">37</text><text x="2110" y="794.4">41</text><text x="2150" y="794.4">31</text><text x="2190" y="794.4">42</text><text x="2231" y="794.4">30</text><text x="2272" y="794.4">58</text><text x="2312.5" y="794.4">28</text><text x="2352.7" y="794.4">33</text><text x="2393.5" y="794.4">46</text><text x="2433.7" y="794.4">40</text><text x="2474" y="794.4">51</text><text x="2515" y="794.4">56</text><text x="2556" y="794.4">49</text><text x="2596" y="794.4">13</text><text x="2636.5" y="794.4">20</text><text x="2678" y="794.4">22</text><text x="2718.8" y="794.4">48</text><text x="2759" y="794.4">50</text><text x="2799" y="794.4">52</text><text x="2840" y="794.4">27</text><text x="2880" y="794.4">38</text><text x="2920" y="794.4">57</text><text x="2961" y="794.4">35</text></g>
<g class="t6"><text x="154" y="931.4">0</text><text x="190" y="931.4">1</text><text x="226" y="931.4">6</text><text x="262" y="931.4">5</text><text x="1118" y="931.4">3</text><text x="1406" y="931.4">2</text><text x="1442" y="931.4">7</text><text x="1664.5" y="931.4">4</text></g>
</g>
</g>
<rect x="20.5" y="62" width="2974.5" height="903" fill="none" stroke="#000" stroke-width="2.2"/>
<g id="colorbar">
<rect x="3182" y="62" width="45" height="903" fill="url(#turbo)" stroke="#000" stroke-width="2.2"/>
<line class="tk" x1="3227" y1="62" x2="3237" y2="62"/><line class="tk" x1="3227" y1="174.9" x2="3237" y2="174.9"/><line class="tk" x1="3227" y1="287.75" x2="3237" y2="287.75"/><line class="tk" x1="3227" y1="400.6" x2="3237" y2="400.6"/><line class="tk" x1="3227" y1="513.5" x2="3237" y2="513.5"/><line class="tk" x1="3227" y1="626.4" x2="3237" y2="626.4"/><line class="tk" x1="3227" y1="739.25" x2="3237" y2="739.25"/><line class="tk" x1="3227" y1="852.1" x2="3237" y2="852.1"/><line class="tk" x1="3227" y1="965" x2="3237" y2="965"/>
<text class="tl" x="3247" y="73">0.200</text><text class="tl" x="3247" y="185.9">0.175</text><text class="tl" x="3247" y="298.75">0.150</text><text class="tl" x="3247" y="411.6">0.125</text><text class="tl" x="3247" y="524.5">0.100</text><text class="tl" x="3247" y="637.4">0.075</text><text class="tl" x="3247" y="750.25">0.050</text><text class="tl" x="3247" y="863.1">0.025</text><text class="tl" x="3247" y="976">0.000</text>
<text class="tl" transform="translate(3355,513.5) rotate(-90)" text-anchor="middle">DM prevalence</text>
</g>
</svg>
